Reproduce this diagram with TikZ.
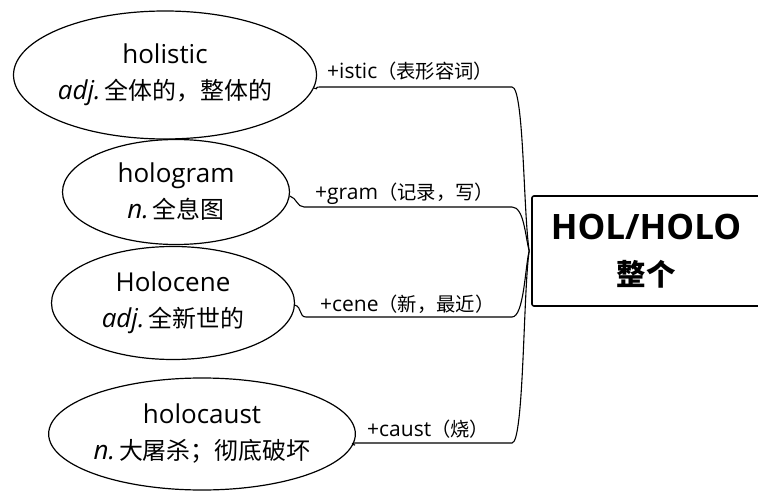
\documentclass[tikz,border=0pt]{standalone}
\usepackage{fontspec}
\setmainfont{Open Sans}
\newfontfamily\cjk{Noto Sans CJK SC}[Scale=0.92]
\usetikzlibrary{shapes.geometric,positioning}

\begin{document}
\begin{tikzpicture}[x=1pt,y=-1pt,
    word/.style={draw,ellipse,line width=1.2pt,inner sep=0pt,align=center,
                 font=\fontsize{26}{36}\selectfont},
    root/.style={draw,line width=1.6pt,rounded corners=2pt,align=center,
                 minimum width=228pt,minimum height=110pt,
                 font=\fontsize{35}{46}\selectfont\bfseries},
    affix/.style={anchor=base west,inner sep=0pt,font=\fontsize{21}{21}\selectfont},
    link/.style={line width=1.1pt}
  ]
    \useasboundingbox (0,0) rectangle (758,492);
    \node[root] (box) at (646,251) {HOL/HOLO\\{\cjk\fontsize{32}{46}\selectfont 整个}};
    \coordinate (hub) at ([xshift=-2pt]box.west);

    \node[word,minimum width=294pt,minimum height=128pt] (e1) at (165,75)
      {holistic\\\textit{adj.}\kern4pt{\cjk 全体的，整体的}};
    \node[word,minimum width=227pt,minimum height=105pt] (e2) at (176,192)
      {hologram\\\textit{n.}\kern4pt{\cjk 全息图}};
    \node[word,minimum width=243pt,minimum height=113pt] (e3) at (173,303)
      {Holocene\\\textit{adj.}\kern4pt{\cjk 全新世的}};
    \node[word,minimum width=279pt,minimum height=112pt] (e4) at (202,434)
      {holocaust\\\textit{n.}\kern4pt{\cjk 大屠杀；彻底破坏}};

    % underlines
    \coordinate (u1) at (320,87);  \coordinate (v1) at (512,87);
    \coordinate (u2) at (304,207); \coordinate (v2) at (512,207);
    \coordinate (u3) at (306,317); \coordinate (v3) at (512,317);
    \coordinate (u4) at (355,443); \coordinate (v4) at (512,443);

    \node[affix] (a1) at (327,79)  {+istic{\cjk （表形容词）}};
    \node[affix] (a2) at (315,200) {+gram{\cjk （记录，写）}};
    \node[affix] (a3) at (320,311) {+cene{\cjk （新，最近）}};
    \node[affix] (a4) at (367,436) {+caust{\cjk （烧）}};

    \draw[link] (e1.-5) .. controls +(6,2) and +(-7,0) .. (u1) -- (v1)
      .. controls +(12,0) and +(-6,-40) .. (hub);
    \draw[link] (e2.-2) .. controls +(7,2) and +(-7,0) .. (u2) -- (v2)
      .. controls +(12,0) and +(-4,-15) .. (hub);
    \draw[link] (e3.-1) .. controls +(7,2) and +(-7,0) .. (u3) -- (v3)
      .. controls +(12,0) and +(-4,15) .. (hub);
    \draw[link] (e4.-4) .. controls +(6,2) and +(-7,0) .. (u4) -- (v4)
      .. controls +(12,0) and +(-6,40) .. (hub);
  \end{tikzpicture}
\end{document}
